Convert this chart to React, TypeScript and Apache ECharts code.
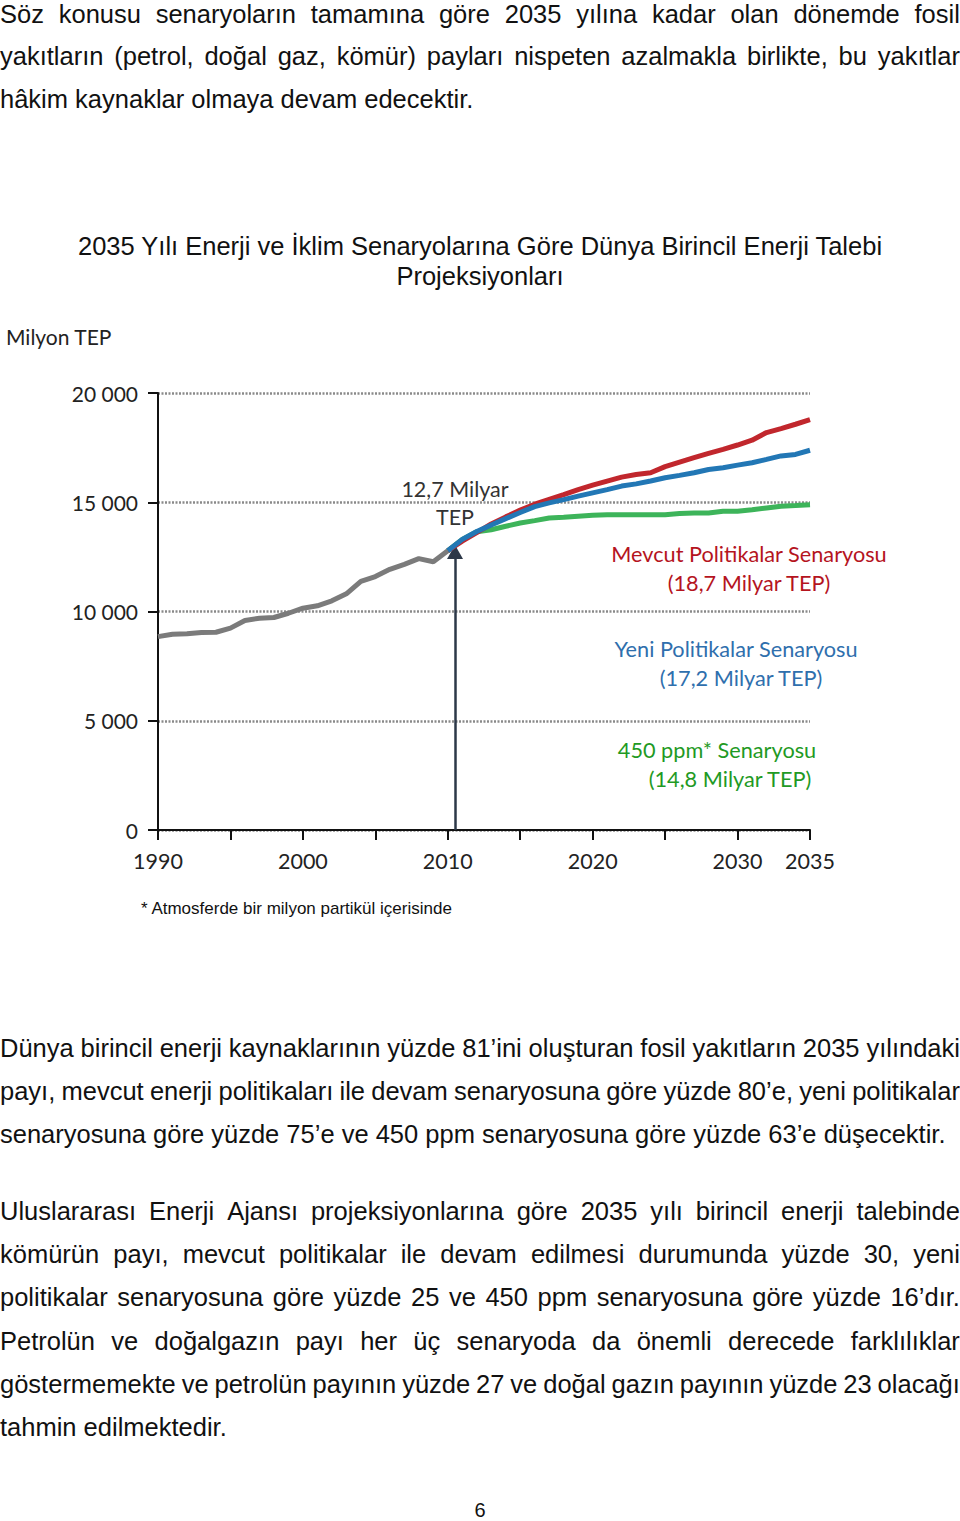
import React, { useEffect, useRef } from "react";
import * as echarts from "echarts";

// ---------- Chart data ----------
const histYears = [1990, 1991, 1992, 1993, 1994, 1995, 1996, 1997, 1998, 1999, 2000, 2001, 2002, 2003, 2004, 2005, 2006, 2007, 2008, 2009, 2010];
const histValues = [8850, 8960, 8980, 9040, 9050, 9240, 9590, 9690, 9725, 9920, 10150, 10260, 10490, 10810, 11380, 11600, 11930, 12160, 12420, 12280, 12780];

const projYears = [2010, 2011, 2012, 2013, 2014, 2015, 2016, 2017, 2018, 2019, 2020, 2021, 2022, 2023, 2024, 2025, 2026, 2027, 2028, 2029, 2030, 2031, 2032, 2033, 2034, 2035];
const currentPolicies = [12780, 13220, 13610, 14010, 14330, 14640, 14910, 15130, 15350, 15580, 15780, 15970, 16150, 16270, 16350, 16630, 16840, 17040, 17240, 17420, 17620, 17840, 18190, 18370, 18570, 18780];
const newPolicies = [12780, 13300, 13660, 13960, 14250, 14530, 14800, 14970, 15120, 15280, 15430, 15580, 15740, 15840, 15970, 16120, 16230, 16350, 16500, 16580, 16700, 16810, 16960, 17120, 17190, 17380];
const ppm450 = [12780, 13300, 13650, 13740, 13900, 14050, 14160, 14280, 14310, 14360, 14400, 14430, 14430, 14430, 14430, 14430, 14480, 14510, 14510, 14590, 14590, 14660, 14740, 14820, 14850, 14890];

const arrowYear = 2010.5;
const arrowTop = 12720;

const xMin = 1990;
const xMax = 2035;
const xStep = 5;
const xLabelYears = [1990, 2000, 2010, 2020, 2030, 2035];
const yMin = 0;
const yMax = 20000;
const yStep = 5000;

// ---------- Texts ----------
const titleLines = [
  "2035 Yılı Enerji ve İklim Senaryolarına Göre Dünya Birincil Enerji Talebi",
  "Projeksiyonları",
];
const unitLabel = "Milyon TEP";
const startLabel = ["12,7 Milyar", "TEP"];
const currentLabel = ["Mevcut Politikalar Senaryosu", "(18,7 Milyar TEP)"];
const newLabel = ["Yeni Politikalar Senaryosu", "(17,2 Milyar TEP)"];
const ppmLabel = ["450 ppm* Senaryosu", "(14,8 Milyar TEP)"];
const footnote = "* Atmosferde bir milyon partikül içerisinde";
const pageNumber = "6";

const para1 = [
  "Söz konusu senaryoların tamamına göre 2035 yılına kadar olan dönemde fosil",
  "yakıtların (petrol, doğal gaz, kömür) payları nispeten azalmakla birlikte, bu yakıtlar",
  "hâkim kaynaklar olmaya devam edecektir.",
];
const para2 = [
  "Dünya birincil enerji kaynaklarının yüzde 81’ini oluşturan fosil yakıtların 2035 yılındaki",
  "payı, mevcut enerji politikaları ile devam senaryosuna göre yüzde 80’e, yeni politikalar",
  "senaryosuna göre yüzde 75’e ve 450 ppm senaryosuna göre yüzde 63’e düşecektir.",
];
const para3 = [
  "Uluslararası Enerji Ajansı projeksiyonlarına göre 2035 yılı birincil enerji talebinde",
  "kömürün payı, mevcut politikalar ile devam edilmesi durumunda yüzde 30, yeni",
  "politikalar senaryosuna göre yüzde 25 ve 450 ppm senaryosuna göre yüzde 16’dır.",
  "Petrolün ve doğalgazın payı her üç senaryoda da önemli derecede farklılıklar",
  "göstermemekte ve petrolün payının yüzde 27 ve doğal gazın payının yüzde 23 olacağı",
  "tahmin edilmektedir.",
];

const BODY_FONT = "'Liberation Sans', Arial, sans-serif";
const CHART_FONT = "Lato, 'Noto Sans', sans-serif";

const zip = (xs: number[], ys: number[]) => xs.map((x, i) => [x, ys[i]]);

function Para({ lines, baselines }: { lines: string[]; baselines: number[] }) {
  const fs = 25.5;
  const lh = 30;
  const baseOff = (lh - fs * 1.117) / 2 + fs * 0.905;
  return (
    <>
      {lines.map((ln, i) => {
        const last = i === lines.length - 1;
        const style: React.CSSProperties = {
          position: "absolute",
          left: 0,
          width: 960,
          top: baselines[i] - baseOff,
          height: lh,
          lineHeight: lh + "px",
          fontFamily: BODY_FONT,
          fontSize: fs,
          color: "#111",
          whiteSpace: "nowrap",
        };
        if (last) return <div key={i} style={style}>{ln}</div>;
        return (
          <div key={i} style={{ ...style, display: "flex", justifyContent: "space-between" }}>
            {ln.split(" ").map((w, j) => (
              <span key={j}>{w}</span>
            ))}
          </div>
        );
      })}
    </>
  );
}

export default function App() {
  const ref = useRef<HTMLDivElement>(null);
  useEffect(() => {
    document.body.style.margin = "0";
    const chart = echarts.init(ref.current!, undefined, { renderer: "svg" });
    const txt = (x: number, y: number, text: string, color: string, size: number, font: string, align = "center") => ({
      type: "text",
      x,
      y,
      silent: true,
      style: { text, fill: color, fontSize: size, fontFamily: font, textAlign: align, textVerticalAlign: "middle" },
    });
    const red = "#b5141e";
    const blue = "#2f6fad";
    const green = "#1f9a24";
    const option: any = {
      animation: false,
      grid: { left: 158, right: 150, top: 393, bottom: 1521 - 830, containLabel: false },
      xAxis: {
        type: "value",
        min: xMin,
        max: xMax,
        interval: xStep,
        axisLine: { show: true, lineStyle: { color: "#111", width: 2 } },
        axisTick: { show: true, length: 10, lineStyle: { color: "#111", width: 2 } },
        axisLabel: {
          formatter: (v: number) => (xLabelYears.includes(v) ? String(v) : ""),
          fontFamily: CHART_FONT,
          fontSize: 21.5,
          color: "#222",
          margin: 20,
        },
        splitLine: { show: false },
      },
      yAxis: {
        type: "value",
        min: yMin,
        max: yMax,
        interval: yStep,
        axisLine: { show: true, lineStyle: { color: "#111", width: 2 } },
        axisTick: { show: true, length: 10, lineStyle: { color: "#111", width: 2 } },
        axisLabel: {
          formatter: (v: number) => (v === 0 ? "0" : `${Math.floor(v / 1000)} ${String(v % 1000).padStart(3, "0")}`),
          fontFamily: CHART_FONT,
          fontSize: 21,
          color: "#222",
          margin: 20,
        },
        splitLine: { show: true, lineStyle: { color: "#8a8a8a", width: 2.5, type: [2, 1.5] } },
      },
      series: [
        {
          type: "line",
          data: zip(histYears, histValues),
          showSymbol: false,
          lineStyle: { color: "#7b7b7b", width: 5 },
          z: 3,
          markLine: {
            silent: true,
            symbol: ["none", "triangle"],
            symbolSize: [16, 14],
            label: { show: false },
            lineStyle: { color: "#2d3848", width: 2.5, type: "solid" },
            data: [[{ coord: [arrowYear, 0] }, { coord: [arrowYear, arrowTop] }]],
          },
        },
        {
          type: "line",
          data: zip(projYears, ppm450),
          showSymbol: false,
          lineStyle: { color: "#3db45a", width: 5 },
          z: 4,
        },
        {
          type: "line",
          data: zip(projYears, currentPolicies),
          showSymbol: false,
          lineStyle: { color: "#c1272d", width: 5 },
          z: 5,
        },
        {
          type: "line",
          data: zip(projYears, newPolicies),
          showSymbol: false,
          lineStyle: { color: "#2277b5", width: 5 },
          z: 6,
        },
      ],
      graphic: [
        txt(480, 246, titleLines[0], "#111", 25.5, BODY_FONT),
        txt(480, 276, titleLines[1], "#111", 25.5, BODY_FONT),
        txt(6, 336, unitLabel, "#222", 21, CHART_FONT, "left"),
        txt(455, 489, startLabel[0], "#333", 21.5, CHART_FONT),
        txt(455, 517, startLabel[1], "#333", 21.5, CHART_FONT),
        txt(749, 554, currentLabel[0], red, 21.7, CHART_FONT),
        txt(749, 583, currentLabel[1], red, 21.7, CHART_FONT),
        txt(736, 649, newLabel[0], blue, 21.7, CHART_FONT),
        txt(741, 678, newLabel[1], blue, 21.7, CHART_FONT),
        txt(717, 750, ppmLabel[0], green, 21.7, CHART_FONT),
        txt(730, 779, ppmLabel[1], green, 21.7, CHART_FONT),
        txt(141, 908, footnote, "#111", 17, BODY_FONT, "left"),
        txt(480, 1510, pageNumber, "#111", 20, BODY_FONT),
      ],
    };
    chart.setOption(option);
    return () => chart.dispose();
  }, []);

  return (
    <div style={{ position: "absolute", left: 0, top: 0, width: 960, height: 1521, background: "#fff", overflow: "hidden" }}>
      <div ref={ref} style={{ position: "absolute", left: 0, top: 0, width: 960, height: 1521 }} />
      <Para lines={para1} baselines={[23, 65, 107.5]} />
      <Para lines={para2} baselines={[1056.5, 1100, 1143.3]} />
      <Para lines={para3} baselines={[1219.5, 1263, 1306.3, 1349.5, 1393, 1436.3]} />
    </div>
  );
}
